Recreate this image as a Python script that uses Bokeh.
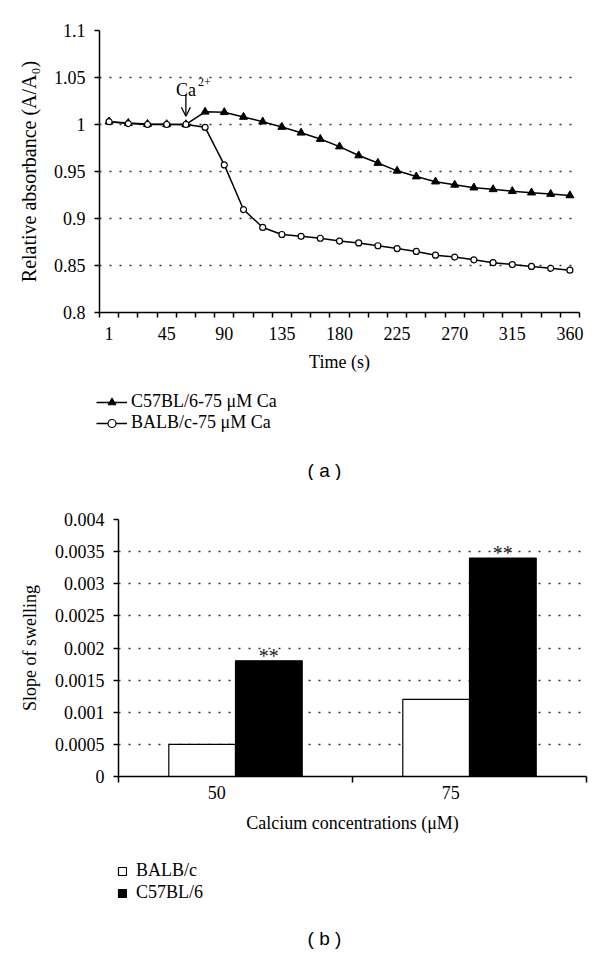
import numpy as np
from bokeh.plotting import figure
from bokeh.models import (Range1d, FixedTicker, CustomJSTickFormatter, Legend, LegendItem,
                          Label, Arrow, OpenHead, ColumnDataSource)
from bokeh.transform import dodge
from bokeh.layouts import column
from bokeh.embed import file_html
from bokeh.resources import INLINE
from bokeh.core.properties import value

# ---------------- data: panel (a) ----------------
time_s = [1, 15, 30, 45, 60, 75, 90, 105, 120, 135, 150, 165, 180,
          195, 210, 225, 240, 255, 270, 285, 300, 315, 330, 345, 360]
c57_75 = [1.003, 1.0015, 1.0005, 1.0002, 1.0001, 1.0135, 1.013, 1.008, 1.003,
          0.9973, 0.9912, 0.9845, 0.9765, 0.967, 0.959, 0.9507, 0.9446, 0.9392,
          0.9358, 0.9328, 0.931, 0.929, 0.9275, 0.926, 0.9245]
balb_75 = [1.003, 1.001, 1.0, 1.0, 1.0, 0.997, 0.957, 0.9095, 0.8905, 0.883,
           0.881, 0.879, 0.876, 0.874, 0.871, 0.868, 0.865, 0.861, 0.859,
           0.856, 0.853, 0.851, 0.849, 0.847, 0.845]
a_yticks = [0.8, 0.85, 0.9, 0.95, 1.0, 1.05, 1.1]
a_label_every = 3

# ---------------- data: panel (b) ----------------
conc = ["50", "75"]
balb_slope = [0.0005, 0.0012]
c57_slope = [0.0018, 0.0034]
sig = ["**", "**"]
b_yticks = [0, 0.0005, 0.001, 0.0015, 0.002, 0.0025, 0.003, 0.0035, 0.004]

SERIF = "Liberation Serif"
SANS = "Liberation Sans"
W = 590
fmt_num = CustomJSTickFormatter(code="return String(parseFloat(tick.toFixed(6)));")


def style_axes(p, ylabel, xlabel):
    for ax in (p.xaxis[0], p.yaxis[0]):
        ax.axis_line_color = "black"
        ax.axis_line_width = 1.5
        ax.major_tick_line_color = "black"
        ax.major_tick_line_width = 1.5
        ax.minor_tick_line_color = "black"
        ax.minor_tick_line_width = 1.5
        ax.major_label_text_font = SERIF
        ax.major_label_text_font_size = "18px"
        ax.major_label_text_color = "black"
        ax.axis_label_text_font = SERIF
        ax.axis_label_text_font_size = "18px"
        ax.axis_label_text_font_style = "normal"
        ax.axis_label_text_color = "black"
    p.yaxis.axis_label = ylabel
    p.xaxis.axis_label = xlabel
    p.yaxis.major_tick_in = 0
    p.yaxis.major_tick_out = 5
    p.yaxis.minor_tick_in = 0
    p.yaxis.minor_tick_out = 0
    p.xaxis.major_tick_in = 0
    p.xaxis.major_tick_out = 0
    p.xaxis.minor_tick_in = 0
    p.xaxis.minor_tick_out = 5
    p.xgrid.visible = False
    p.ygrid.grid_line_color = "#333333"
    p.ygrid.grid_line_width = 1.5
    p.ygrid.grid_line_dash = "2 8"
    p.outline_line_color = None
    p.background_fill_color = "white"
    p.border_fill_color = "white"
    p.frame_align = False


def key_figure(height):
    # blank strip under a chart that carries its key and caption (pixel-like coordinates)
    f = figure(width=W, height=height, x_range=Range1d(0, W), y_range=Range1d(height, 0),
               x_axis_location=None, y_axis_location=None, output_backend="svg",
               toolbar_location=None, min_border=0)
    f.min_border_left = f.min_border_right = f.min_border_top = f.min_border_bottom = 0
    f.outline_line_color = None
    f.xgrid.visible = False
    f.ygrid.visible = False
    f.frame_align = False
    return f


def key(items, loc, gw, gh, standoff):
    return Legend(items=items, location=loc, padding=0, margin=0, spacing=0,
                  glyph_width=gw, glyph_height=gh, label_height=20, label_standoff=standoff,
                  label_text_font=SERIF, label_text_font_size="18px",
                  label_text_color="black",
                  border_line_color=None, background_fill_alpha=0)


# ================= panel (a) =================
n = len(time_s)
src_a = ColumnDataSource(dict(pos=[i + 0.5 for i in range(n)], t=time_s,
                              c57=c57_75, balb=balb_75))

p1 = figure(width=W, height=380, x_range=Range1d(0, n), y_range=Range1d(0.8, 1.1),
            output_backend="svg", toolbar_location=None,
            min_border_left=99, min_border_right=11, min_border_top=30, min_border_bottom=68)
style_axes(p1, "Relative absorbance (A/A\u2080)", "Time (s)")
p1.yaxis.axis_label_text_font_size = "20px"

p1.xaxis.ticker = FixedTicker(ticks=[i + 0.5 for i in range(0, n, a_label_every)],
                              minor_ticks=list(range(0, n + 1)))
p1.xaxis.formatter = CustomJSTickFormatter(
    args=dict(labels=[str(t) for t in time_s]),
    code="const i = Math.round(tick - 0.5); return labels[i] === undefined ? '' : labels[i];")
p1.xaxis.major_label_standoff = 9
p1.xaxis.axis_label_standoff = 9
p1.yaxis.ticker = FixedTicker(ticks=a_yticks)
p1.yaxis.formatter = fmt_num
p1.yaxis.major_label_standoff = 9
p1.yaxis.axis_label_standoff = 11

line_kw = dict(line_color="black", line_width=1.5)
tri_kw = dict(marker="triangle", size=8, fill_color="black", line_color="black")
circ_kw = dict(marker="circle", size=6, fill_color="white", line_color="black", line_width=1.2)

p1.line("pos", "c57", source=src_a, **line_kw)
p1.scatter("pos", "c57", source=src_a, **tri_kw)
p1.line("pos", "balb", source=src_a, **line_kw)
p1.scatter("pos", "balb", source=src_a, **circ_kw)

# Ca2+ annotation
ca_idx = time_s.index(60) + 0.5
p1.add_layout(Arrow(end=OpenHead(size=9, line_color="black", line_width=1.3),
                    x_start=ca_idx, y_start=1.0322, x_end=ca_idx, y_end=1.0088,
                    line_color="black", line_width=1.3))
p1.add_layout(Label(x=ca_idx, y=1.0372, x_offset=-10, text="Ca", text_align="left",
                    text_baseline="alphabetic", text_font=SERIF,
                    text_font_size="18px", text_color="black"))
p1.add_layout(Label(x=ca_idx, y=1.0372, x_offset=12, y_offset=8, text="2+",
                    text_align="left", text_baseline="alphabetic",
                    text_font=SERIF, text_font_size="12px", text_color="black"))

# key + caption strip for (a); legend proxies hold a single NaN row (never drawn)
ka = key_figure(100)
proxy = ColumnDataSource(dict(x=np.array([np.nan]), y=np.array([np.nan])))
kl1 = ka.line("x", "y", source=proxy, **line_kw)
km1 = ka.scatter("x", "y", source=proxy, **tri_kw)
kl2 = ka.line("x", "y", source=proxy, **line_kw)
km2 = ka.scatter("x", "y", source=proxy, **circ_kw)
ka.add_layout(key([LegendItem(label="C57BL/6-75 \u03bcM Ca", renderers=[kl1, km1])],
                  (96, 68), 31, 20, 4), "center")
ka.add_layout(key([LegendItem(label="BALB/c-75 \u03bcM Ca", renderers=[kl2, km2])],
                  (96, 47), 31, 20, 4), "center")
ka.add_layout(Label(x=324, y=90, text="( a )", text_align="center", text_baseline="middle",
                    text_font=SANS, text_font_size="19px", text_color="black"))

# ================= panel (b) =================
src_b = ColumnDataSource(dict(pos=[i + 0.5 for i in range(len(conc))], balb=balb_slope,
                              c57=c57_slope, sig=sig))
p2 = figure(width=W, height=360, x_range=Range1d(0, len(conc)),
            y_range=Range1d(0, 0.004), output_backend="svg", toolbar_location=None,
            min_border_left=118, min_border_right=4, min_border_top=39, min_border_bottom=64)
style_axes(p2, "Slope of swelling", "Calcium concentrations (\u03bcM)")
label_shift = -0.08
p2.xaxis.ticker = FixedTicker(ticks=[i + 0.5 + label_shift for i in range(len(conc))],
                              minor_ticks=list(range(0, len(conc) + 1)))
p2.xaxis.formatter = CustomJSTickFormatter(args=dict(labels=conc),
                                           code="return labels[Math.round(tick - 0.5)];")
p2.xaxis.minor_tick_out = 6
p2.xaxis.major_label_standoff = 3
p2.xaxis.axis_label_standoff = 11
p2.yaxis.ticker = FixedTicker(ticks=b_yticks)
p2.yaxis.formatter = fmt_num
p2.yaxis.major_label_standoff = 9
p2.yaxis.axis_label_standoff = 12

bw = 0.285
white_kw = dict(fill_color="white", line_color="black", line_width=1.2)
black_kw = dict(fill_color="black", line_color="black", line_width=1.2)
p2.vbar(x=dodge("pos", -bw / 2), top="balb", width=bw, source=src_b, **white_kw)
p2.vbar(x=dodge("pos", bw / 2), top="c57", width=bw, source=src_b, **black_kw)
p2.text(x=dodge("pos", bw / 2), y="c57", text="sig", source=src_b, y_offset=-5,
        text_align="center", text_baseline="alphabetic", text_font=value(SERIF),
        text_font_size="20px", text_color="#222222")

# key + caption strip for (b)
kb = key_figure(113)
proxy_b = ColumnDataSource(dict(x=np.array([np.nan]), top=np.array([np.nan])))
kb1 = kb.vbar(x="x", top="top", width=1, source=proxy_b, **white_kw)
kb2 = kb.vbar(x="x", top="top", width=1, source=proxy_b, **black_kw)
kb.add_layout(key([LegendItem(label="BALB/c", renderers=[kb1])], (117, 72), 10, 10, 9), "center")
kb.add_layout(key([LegendItem(label="C57BL/6", renderers=[kb2])], (117, 50), 10, 10, 9), "center")
kb.add_layout(Label(x=324, y=98, text="( b )", text_align="center", text_baseline="middle",
                    text_font=SANS, text_font_size="19px", text_color="black"))

layout = column(p1, ka, p2, kb, spacing=0)
open("out.html", "w").write(file_html(layout, INLINE))
